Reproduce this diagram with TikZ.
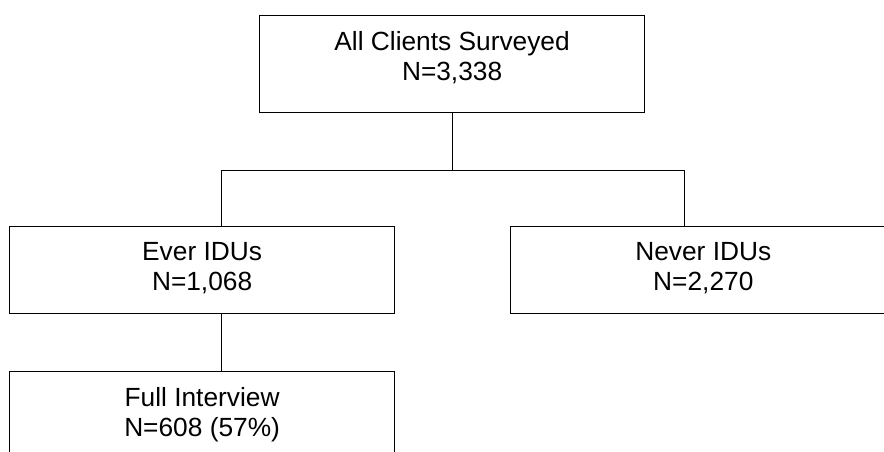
\documentclass[tikz,border=0pt]{standalone}
\usepackage{fontspec}
\setmainfont{Liberation Sans}
\usetikzlibrary{positioning}

\begin{document}
\begin{tikzpicture}[x=1pt,y=1pt,line width=1.2pt,
    base/.style={rectangle,draw,minimum width=385pt,minimum height=87pt,inner sep=0pt,anchor=north west},
    caption/.style={align=center,inner sep=0pt,font=\fontsize{26.3}{30.5}\selectfont}]

    \useasboundingbox (0,0) rectangle (884,-451);

    \node[base, minimum height=97pt] (all) at (259,-15) {};
    \node[base] (ever) at (9,-226) {};
    \node[base, right=115pt of ever] (never) {};
    \node[base, below=57pt of ever] (full) {};

    \node[caption, below=15.5pt of all.north] (alltext)
    {
        All Clients Surveyed\\
        N=3,338
    };
    \node[caption, below=15.5pt of ever.north] (evertext)
    {
        Ever IDUs\\
        N=1,068
    };
    \node[caption, below=15.5pt of never.north] (nevertext)
    {
        Never IDUs\\
        N=2,270
    };
    \node[caption, below=15.5pt of full.north] (fulltext)
    {
        Full Interview\\
        N=608 (57\%)
    };

    \draw[line width=1pt] (all.south) -- ++(0,-57) coordinate (split);
    \draw[line width=1pt] (split) -| ([xshift=19.5pt]ever.north);
    \draw[line width=1pt] (split) -| ([xshift=-19pt]never.north);
    \draw[line width=1pt] ([xshift=19.5pt]ever.south) -- ([xshift=19.5pt]full.north);
\end{tikzpicture}
\end{document}
